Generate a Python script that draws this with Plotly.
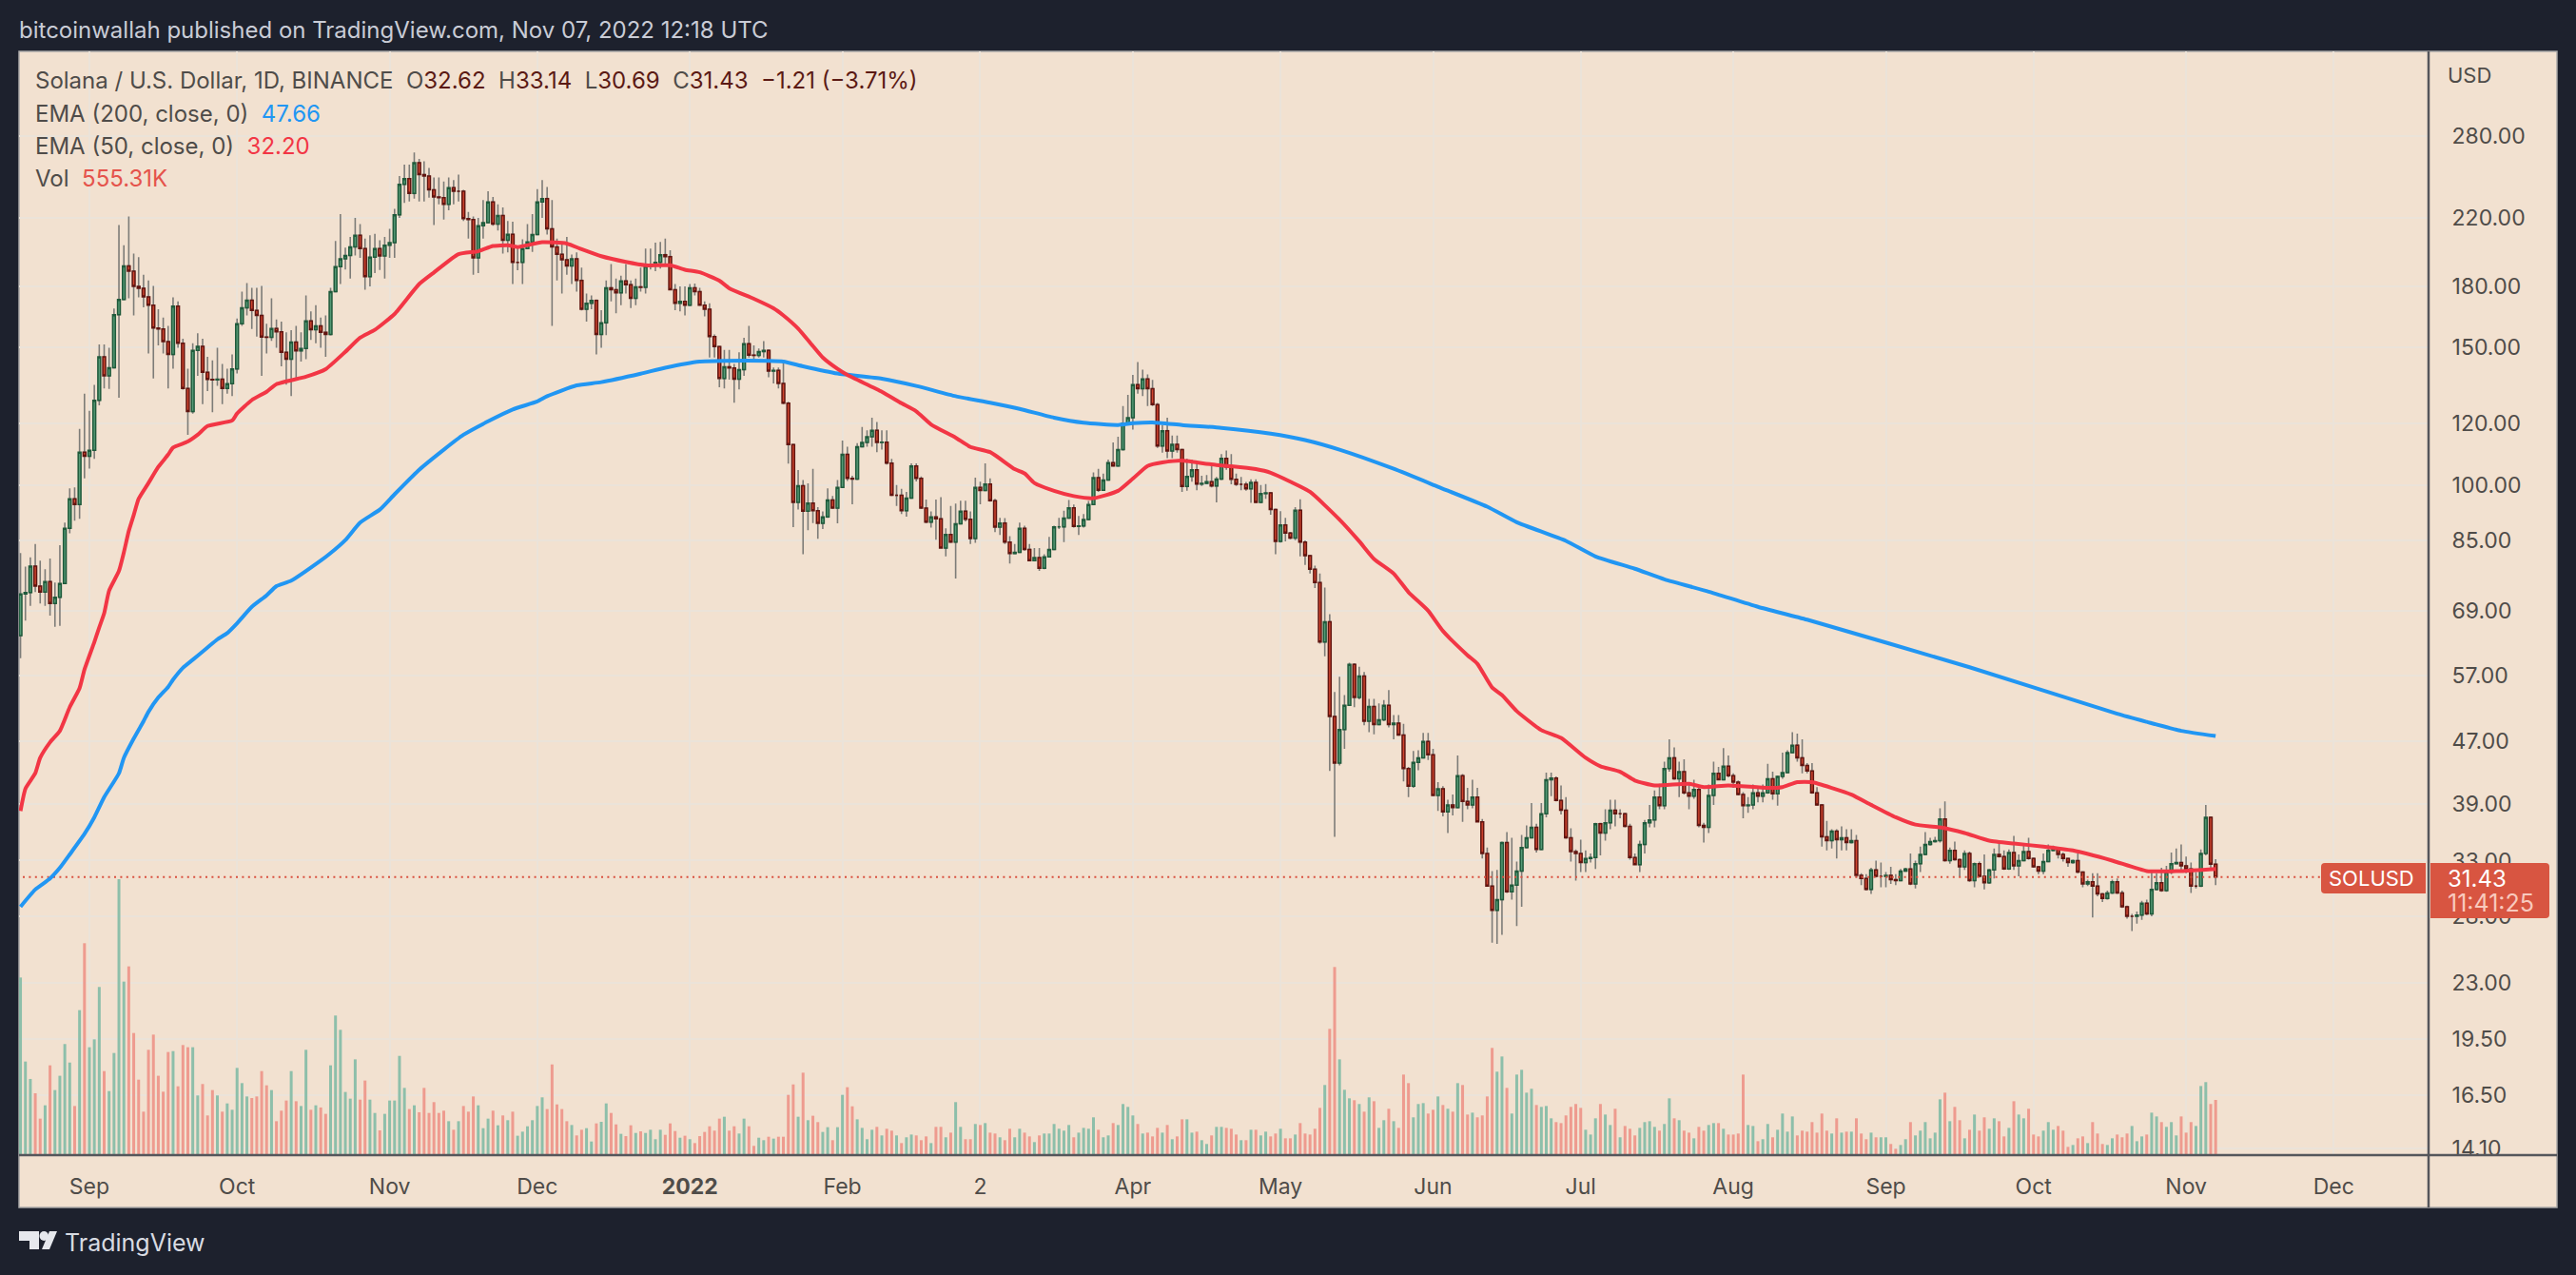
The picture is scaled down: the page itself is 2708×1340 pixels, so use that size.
import datetime as dt
import plotly.graph_objects as go

first_day = dt.date(2021, 8, 18)
first_open = 64.1

closes = [
72.5,72.8,78.7,74.2,72.9,75.2,70.5,71.8,74.8,88,
96,94.4,110.2,108.9,110.8,128.4,146,138,141.4,165.4,
173,191,188,179.7,178.8,174.3,170,159,158.5,152.7,
147,169.6,152,133,124.2,148.8,150.6,139.5,136.6,136.4,
136.7,133,134.9,140.9,161,168.7,172.6,167.4,165,154.8,
154.7,158.8,157.2,148,145,152.5,148.6,149.7,162.4,158.2,
160,157,156,177,190.6,195,197,202,209,201,
185,196,201,196.7,203,204.5,222,243,247,236.5,
259,250,249,239,234,233.5,229,240.6,238,238,
219.6,219,195.6,215,217,230.6,216,221.6,206,209.6,
193,193,201,205,209.5,230.6,233,213,202,197.6,
194.5,191,195,183,168,171,172.5,156,161.4,179,
178,176.4,182.7,180.7,173.6,179.5,179.3,190.8,191.5,193,
197.4,196.3,178,171,172,170,179,177,170,168,
155,150.5,137,141.8,141.3,136.7,140.6,151.8,146.7,146.6,
148.3,148.8,140,140.3,135,127.3,112.7,95,99.8,92.6,
94.8,92.7,89.3,91,95.7,93.4,99.3,109.5,102,101.8,
112,113.4,115.3,117.5,113.4,113.5,106.7,97,97,92.7,
96.2,105.8,102,93.4,89.6,91,90.5,83,86.4,84.5,
89.2,92.6,90.4,85.4,99.3,98.4,100.3,95.5,88.3,89.4,
84.5,81.7,82,88,82.7,80,80.7,78.2,80.9,82.7,
88.4,88.4,90.7,93.5,88.5,88.6,90.3,94.4,102.2,98.5,
101.5,106.8,105.8,111,120,122,134.5,132.9,136.8,132.9,
126.8,112.2,117.4,110.6,112.8,111,99.6,102.6,104.6,100.3,
100.5,101,99.7,101.8,108.2,105.5,101.7,100.2,100.2,98.9,
100.8,95,97.5,97.7,93,84.7,88.9,86.8,85.5,92.8,
84.5,81.2,78,75,62.9,66.8,50.5,44,48.6,52.2,
58.9,53.4,56.9,49.8,52,49.3,50,52.2,49.3,49.5,
47.8,43.3,41.1,44.1,44.7,46.9,45.1,40,40.8,38.1,
38.9,38.6,42.4,39.3,38.9,39.8,37,33.7,30.6,28.5,
29.4,34.8,30.1,30.7,32,34.3,35.3,36.4,34.1,37.9,
41.9,42.1,39.4,38.3,35.3,33.9,33.7,32.8,33.2,33.3,
36.8,35.8,36.9,38.3,37.9,37.9,36.5,33.3,32.6,34.6,
36.9,37.2,39.8,38.8,43.3,44.7,42,42.9,40.3,39.9,
40.7,36.6,36.4,40,42.7,41.9,43.6,42.4,41.6,40.1,
38.8,38.9,40.3,39.9,40.3,42,40.2,42.3,42.8,45.4,
46.4,44.7,43.7,43,40.3,38.9,35.4,35,36,35.1,
35.3,34.8,35,31.6,31.3,30.3,32.1,31.5,31.5,31.6,
31.2,31.1,32,32.2,30.8,32.7,33.6,34.6,34.9,35,
37.3,33,34,33.1,32.4,33.7,31.1,32.7,31.5,30.9,
32.1,33.6,33.4,32.2,33.8,32.5,33,33.9,33.2,32.4,
32,32.9,34,34.2,33.6,33.2,32.8,33,31.9,30.8,
31,30.6,29.9,29.5,30,31,30,28.8,28,28,
28.1,29.1,28.2,30.3,30.9,30.2,31.9,32.7,32.8,32.5,
32.2,30.6,30.6,33.7,37.5,32.64,31.43,
]

highs = [
81.8,78.6,80.8,84,80,78,80.5,75,83.7,89.5,
99,99.3,118,131,124.5,134.4,151.5,151.5,150,168.4,
215.5,203,221,198,196,186,183,180,168,164,
160,174,172,154,141,152,156.5,154,146,144.5,
150,143,141,147,163.5,177,181.5,179,179,180,
161,173.5,163,162,157,158,160,157,175,167,
170,164,165,179,205.5,222.5,201.5,208,220,216,
207,209,210,206,208,213,226,249,257.5,257.5,
267,262,260,255,248,248,245,248,246,250,
239,224,221,220,232,238,234,229,227,218,
217.6,202,206.5,216,222.5,239.6,246,241,232,207,
204,208,197.5,198.8,190,176,175,173,167.6,183,
192,184,185.5,192,183,184,190,201,201,204.5,
205,207,200,181,179.8,179.8,181,181.3,179,172,
171,156,150.5,149,149,143,148,154.5,160,151,
149.7,152.9,149.2,141.5,141.5,143.6,127.9,112,104.5,101.5,
100.5,104.9,93.7,92.5,99,96.8,101.5,114,112,102.8,
113.2,118.7,117.5,122,120.5,117.5,117.5,108,100,98.9,
98,106.6,106.6,102.6,95.8,92.5,95.8,96.5,88,94,
94.7,95.5,95.5,92.5,102.2,101,106.6,102,96,90.8,
90.7,86,84,89.5,88.7,84,83,83,81.5,85.8,
88.7,90.8,92.7,95.7,94.4,91.3,91.8,95.4,103.8,104.9,
103.4,107.8,113.4,115.3,126.3,130.5,138.4,143.8,140.6,138.6,
136.4,127.4,119.4,122,115.7,115.7,111.2,108.1,107.8,107.5,
102.8,103,105.7,102.4,109.6,110.7,109.6,103.4,102.4,100.9,
101.7,101.7,100,100.3,98,93.3,92.6,90.8,87.1,93.7,
95.9,84.9,81,78.8,77,73.9,68.3,54.3,56.8,53.8,
59.2,59.1,58.5,57.6,53.2,53.2,52.5,53,54.6,50.7,
50.7,49.4,43.5,45.6,45.7,48.1,48.1,45.9,41.6,41.1,
39.5,40.1,45,42.6,40.9,41.9,40.9,37.3,34.3,32,
32.1,34.9,35.9,35.3,32.9,35.6,36.6,39.1,36.8,39.1,
42.8,42.8,42.3,41.2,39.8,36.3,34.1,35.1,34,33.7,
36.9,36.9,38.4,39.5,39.5,38.4,38,36.8,33.7,35,
37.2,38.9,40.6,41.4,44.2,47.2,46.1,44.2,44.5,41.3,
41.9,41,36.9,41.3,44.2,43.5,46,45,42.7,41.8,
40.4,39.8,41.3,40.9,41.3,43.9,42.9,42.4,45.4,45.7,
48.2,48,47.2,44,44,41,38.9,37.1,36.2,36.2,
36.5,36.2,36.2,35.6,31.8,31.7,32.3,33,32.8,31.9,
32.4,31.7,32.2,32.3,33.7,33,34.4,35.9,35.3,35.4,
38.5,39.3,34.3,34.9,33.2,34,33.9,32.8,32.9,33.6,
32.2,34.2,34.8,34,34.1,35.5,33.6,34.5,35.3,33.3,
32.5,33.7,34.6,34.5,34.3,33.8,33.2,33.1,33.7,31.9,
31.2,31.8,31.8,30,30.2,31.2,31.3,30.2,28.9,28.2,
28.4,29.3,29.4,32,31.8,32.3,32.5,33.8,34.2,34.6,
33.4,32.8,31.9,34.1,38.9,37.6,33.14,
]

lows = [
60,67,70,72.9,70.5,70,68,65.8,66,75,
86.7,90,90.5,102,105,108,126.5,133,132.8,147,
129.4,173.5,173.5,165,174,169,147.5,137,151,147.5,
133,141,150,132.5,116,123.5,138,127,132,124,
134,127,131,130,139,160,165,158.5,155,138,
147.5,153,150,142,134.5,130,137,144,145,153.5,
152,150,146,155.5,178.5,181,189,184,197,195.6,
178,179.7,187,188.7,184,195.6,195.6,220,230,231,
233,231,231,233.5,215.5,229,219,225,229,231,
218,207,186,187,207,218,215,212,198,198.7,
181,188.5,181,201,199,209.5,220,209.5,160,183,
176,186,181,177,167.5,162,168,147,150,155.6,
172,166,170,176,168.6,170,177,176,189,188,
189.5,191.5,177.7,167.6,167,165,170,175,169.8,164.5,
145.7,145.7,133.5,133,136.5,127.5,132.6,138,145.7,144,
145.7,145.7,137.5,135,133,127,106.5,88.3,93,81.5,
87.5,89.4,85.3,87.8,91.1,93.2,89.3,99.2,101.2,94.5,
101.5,112,112,112,110.2,111,106.2,96.8,94,91.8,
91.1,96,101.1,93.2,89.3,88.2,85.1,83,81,84.3,
75.9,89.3,89.8,84,84.3,94.5,98.2,95.2,87,86.3,
84,79.3,81.6,81.9,82.4,79.8,80.2,77.6,78,80.7,
82.7,87.8,84.5,90.8,88.2,86.3,88.2,90.3,94.3,98,
98.5,101.5,105.6,105.6,111,119.6,117.8,131,130,126.3,
126.3,111.6,110,108.3,108.3,110,98,98.3,101,98.5,
99.7,100.2,99.3,95,101.5,104.6,100.2,99.7,98.5,98.3,
94.9,94.8,94.8,96,91.6,81.5,84.4,84.7,85.2,85,
81,79,77,73.8,62.6,60.3,43,35.4,43.7,45.9,
52.2,51.9,53.1,49.2,48.2,47.9,49.3,49.8,48.9,47.2,
47.7,41.7,39.8,40.9,43.1,44.6,44.4,39.9,38.2,37.6,
35.8,37.7,38.5,37,38.4,38.5,37,33.2,30.6,25.9,
25.8,26.5,30,29.4,27.2,28.8,34.2,35.3,33.8,34.1,
37.5,39.9,39.3,37.8,35.2,32.9,31.1,31.9,31.9,32.8,
32.2,33.5,35,36.2,36.5,37.4,36.4,33.1,32.6,31.9,
33.7,36.4,36.4,38.4,38.4,42.9,41.9,39.8,40.1,38.4,
39.6,36.4,34.8,35.8,38.9,41.9,41.8,42.2,40.9,40,
37.4,38,38.4,39.2,39.2,40.2,39.5,38.8,42,42.7,
45.3,44.2,42.7,42.7,40.2,38.8,34.4,34,34.2,33.2,
34,34,34.7,31.4,30.7,30.2,29.9,31.4,30.5,30.5,
30.8,30.7,31.1,32,30.7,30.4,31.9,33.5,34.5,34.8,
34.8,32.9,32.7,33,31.5,32.1,31,30.5,31.4,30.3,
30.8,31.3,33.3,32.1,32.1,32.1,31.5,33,33.1,32.3,
31.7,31.7,32.9,34,33.2,32.9,32.4,32.7,31.8,30.5,
30.6,27.9,29.7,29.2,29.4,29.9,29.9,28.7,27.8,26.8,
27.4,27.7,28.1,28,30.2,30.1,30.1,31.7,32.7,32.1,
31.8,30,30.4,30.6,33.5,32.2,30.69,
]

volumes_k = [
1786,941,766,622,367,501,903,654,798,1117,
931,494,1458,2131,1085,1164,1691,845,644,1027,
2775,1745,1898,1228,759,437,1059,1212,798,638,
1037,1046,692,1107,1085,1085,600,715,399,654,
600,437,520,456,877,724,590,574,590,845,
702,654,341,447,549,845,542,494,1059,456,
501,479,415,903,1404,1260,635,568,963,558,
750,558,424,249,415,549,549,998,676,463,
501,431,676,424,533,424,447,341,255,341,
494,437,590,501,271,367,447,300,399,351,
437,195,236,290,351,494,581,463,912,510,
463,341,303,198,255,271,137,319,335,520,
424,309,214,191,300,223,239,223,255,160,
255,204,319,242,175,195,160,121,191,233,
290,246,367,386,246,290,217,367,290,93,
175,150,185,166,185,185,606,711,386,829,
351,396,332,233,281,150,281,606,683,491,
360,274,160,255,284,198,265,246,198,121,
179,207,198,150,188,121,284,284,179,226,
533,284,160,160,313,303,322,226,217,179,
150,265,179,265,226,188,131,198,217,217,
313,265,246,303,179,226,274,265,380,255,
179,198,322,303,514,485,399,313,217,226,
188,274,226,303,160,188,360,360,226,236,
150,112,198,284,284,274,265,207,150,150,
255,255,198,236,188,217,265,169,169,207,
322,217,207,265,475,705,1270,1892,963,657,
571,552,514,437,581,542,274,351,466,341,
274,810,724,380,514,523,418,456,590,504,
466,437,724,705,408,427,380,399,590,1078,
839,992,676,418,810,858,628,667,504,485,
494,370,332,322,399,485,514,475,255,207,
370,514,408,303,466,179,293,265,198,274,
332,341,284,246,313,571,370,351,246,226,
169,284,246,303,322,322,265,207,207,217,
810,303,293,140,160,313,179,255,418,236,
389,198,246,236,332,226,418,246,217,370,
226,236,236,370,217,160,226,179,179,179,
112,64,102,160,332,198,246,332,169,226,
561,628,341,485,351,169,255,408,246,380,
265,370,341,188,274,542,408,370,466,207,
188,246,332,255,293,246,83,102,169,188,
121,332,217,112,102,169,207,179,217,293,
140,188,207,427,389,332,284,332,198,389,
226,332,293,695,734,514,555.31,
]

ema50_day = [0,1,3,4,6,8,10,12,13,15,16,17,18,20,21,22,23,24,26,28,30,31,34,36,38,43,44,47,50,52,58,62,66,69,72,76,81,84,89,93,96,99,
101,106,111,114,118,123,127,132,135,138,142,144,149,153,155,158,161,163,166,168,175,179,182,185,190,193,197,
202,204,206,210,214,218,223,226,229,232,236,239,243,246,251,254,258,262,268,272,275,279,282,286,289,294,296,299,301,304,309,313,318,321,325,328,332,339,342,347,
355,358,361,364,368,372,376,381,385,390,395,400,405,411,417,425,432,439,446]
ema50_val = [38.2,40.8,42.7,44.7,46.8,48.4,51.9,54.9,58,62.9,65.7,68.5,73.2,77.6,82,87.3,91.5,96,100.6,105.5,109.4,111.7,113.7,116,119,121,123.5,128.5,131.7,134.7,137.7,140.8,148.2,154.5,158.1,165.7,181,187.3,197.7,199.4,202.5,203,
201.9,204.8,204,200.6,196.5,193.2,191.3,191.3,188.8,187.4,182.8,178.8,173.3,168.5,165,158.7,150.7,145.7,140.9,138.4,131.7,127.3,124.3,119.6,115,111.9,110.2,
104.8,103.5,100.6,98.3,96.8,96.2,98.3,101.9,105.8,106.9,107.5,106.9,106.1,105.7,104.8,103.7,101,98,90.3,84.7,80.4,77,72.9,69,65,60.5,59,55,53.8,51.3,48.5,47.4,44.7,43.6,42.9,41.8,41.2,41.4,41,41.2,
40.9,41,41.6,41.6,40.9,40.1,38.9,37.5,36.7,36.4,35.8,35,34.7,34.4,34,33,32,32,32.2]

ema200_day = [0,3,6,8,10,13,15,17,20,21,23,25,26,28,30,31,33,35,38,40,42,44,47,50,52,55,61,63,66,69,73,76,81,86,90,95,100,105,107,113,118,126,131,138,143,152,155,159,166,175,182,190,197,203,210,216,223,226,230,236,244,254,261,268,279,288,298,304,314,320,328,334,343,353,363,396,426,432,439,446]
ema200_val = [28.8,30.3,31.3,32.3,33.6,35.7,37.5,39.8,42.7,44.7,47.3,49.8,51.2,53.4,55.1,56.3,58.3,59.7,61.9,63.4,64.6,66.5,69.8,72.2,74.2,75.4,80,81.8,85,89.5,93,97.3,104.6,111,116,120.7,125,128,130,134.2,135.5,138.9,141.4,144,144.3,144.3,144,142,139,136.9,134,130,127.5,125.2,122,120.2,119.4,120,120.3,119.4,118.4,116.4,114.2,111,104.9,99.5,93.8,89.6,84.8,81,78.1,75.7,73,69.8,67.2,58.4,50.9,49.7,48.4,47.66]

last_price = [31.43, 31.43]
price_ticks = [280,220,180,150,120,100,85,69,57,47,39,33,28,23,19.5,16.5,14.1]
price_tick_text = ["280.00","220.00","180.00","150.00","120.00","100.00","85.00","69.00","57.00","47.00","39.00","33.00","28.00","23.00","19.50","16.50","14.10"]
month_ticks = ["2021-09-01","2021-10-01","2021-11-01","2021-12-01","2022-01-01","2022-02-01","2022-03-01","2022-04-01","2022-05-01","2022-06-01","2022-07-01","2022-08-01","2022-09-01","2022-10-01","2022-11-01","2022-12-01"]
month_text = ["Sep","Oct","Nov","Dec","<b>2022</b>","Feb","2","Apr","May","Jun","Jul","Aug","Sep","Oct","Nov","Dec"]

dates = [first_day + dt.timedelta(days=i) for i in range(len(closes))]
opens = [first_open] + closes[:-1]

W, H = 2708, 1340
PL, PR, PT, PB = 20, 2553, 54, 1214
def px(x): return (x - PL) / (PR - PL)
def py(y): return (PB - y) / (PB - PT)

FRAME = "#1d212d"
PEACH = "#f2e1d0"
GRID = "#ebe3d9"
AXIS = "#55565b"
FONT = "Inter, Roboto, sans-serif"
TXT = "#4f4c49"
VAL = "#5b1a14"

fig = go.Figure()

vol_colors = ["#8dbfaa" if c >= o else "#ee9b8f" for o, c in zip(opens, closes)]
fig.add_trace(go.Bar(x=dates, y=volumes_k, yaxis="y2", marker=dict(color=vol_colors, line_width=0),
                     width=3.0 / 5.174 * 86400000, hoverinfo="skip", showlegend=False))

fig.add_trace(go.Scatter(x=[dates[0] - dt.timedelta(days=2), dt.date(2022, 11, 29)], y=last_price, mode="lines",
                         line=dict(color="#d9503f", width=2, dash="2px,4.4px"), hoverinfo="skip", showlegend=False))

fig.add_trace(go.Candlestick(x=dates, open=opens, close=opens, high=highs, low=lows, whiskerwidth=0,
                             increasing=dict(line=dict(color="#7d7c78", width=1.6), fillcolor="rgba(0,0,0,0)"),
                             decreasing=dict(line=dict(color="#7d7c78", width=1.6), fillcolor="rgba(0,0,0,0)"),
                             hoverinfo="skip", showlegend=False))
fig.add_trace(go.Candlestick(x=dates, open=opens, close=closes,
                             high=[max(o, c) for o, c in zip(opens, closes)],
                             low=[min(o, c) for o, c in zip(opens, closes)], whiskerwidth=0,
                             increasing=dict(line=dict(color="#1f5a3b", width=1.5), fillcolor="#559a76"),
                             decreasing=dict(line=dict(color="#611510", width=1.5), fillcolor="#d1452f"),
                             hoverinfo="skip", showlegend=False))

fig.add_trace(go.Scatter(x=[dates[i] for i in ema200_day], y=ema200_val, mode="lines",
                         line=dict(color="#2196f3", width=4, shape="spline", smoothing=0.5),
                         hoverinfo="skip", showlegend=False))
fig.add_trace(go.Scatter(x=[dates[i] for i in ema50_day], y=ema50_val, mode="lines",
                         line=dict(color="#f23645", width=4, shape="spline", smoothing=0.5),
                         hoverinfo="skip", showlegend=False))

def rrect(x0, y0, x1, y1, r_left, r_right, color):
    X = lambda v: px(v)
    Y = lambda v: py(v)
    d = (f"M {X(x0+r_left)} {Y(y0)} L {X(x1-r_right)} {Y(y0)} Q {X(x1)} {Y(y0)} {X(x1)} {Y(y0+r_right)} "
         f"L {X(x1)} {Y(y1-r_right)} Q {X(x1)} {Y(y1)} {X(x1-r_right)} {Y(y1)} "
         f"L {X(x0+r_left)} {Y(y1)} Q {X(x0)} {Y(y1)} {X(x0)} {Y(y1-r_left)} "
         f"L {X(x0)} {Y(y0+r_left)} Q {X(x0)} {Y(y0)} {X(x0+r_left)} {Y(y0)} Z")
    return dict(type="path", xref="paper", yref="paper", path=d, fillcolor=color, line_width=0, layer="above")

def rect(x0, y0, x1, y1, color, layer="above", line=None):
    return dict(type="rect", xref="paper", yref="paper", x0=px(x0), x1=px(x1), y0=py(y1), y1=py(y0),
                fillcolor=color, line=line or dict(width=0), layer=layer)

def seg(x0, y0, x1, y1, color, w):
    return dict(type="line", xref="paper", yref="paper", x0=px(x0), x1=px(x1), y0=py(y0), y1=py(y1),
                line=dict(color=color, width=w), layer="above")

def poly(points, color):
    d = "M " + " L ".join(f"{px(a)} {py(b)}" for a, b in points) + " Z"
    return dict(type="path", xref="paper", yref="paper", path=d, fillcolor=color, line_width=0, layer="above")

LABEL_RED = "#d85541"
shapes = [
    rect(PL, PT, 2688, 1269, PEACH, layer="below", line=dict(color="#a9a8a8", width=1.5)),
    rect(2556, 1216, 2686, 1267, PEACH),
    rrect(2440, 907, 2550, 939, 4, 0, LABEL_RED),
    rrect(2555, 907, 2680, 965, 0, 4, LABEL_RED),
    seg(PL, 1214, 2688, 1214, AXIS, 2.5),
    seg(2553, PT, 2553, 1269, AXIS, 2.5),
    poly([(20, 1294), (41, 1294), (41, 1313), (31, 1313), (31, 1304), (20, 1304)], "#e6e8ed"),
    dict(type="circle", xref="paper", yref="paper", x0=px(41.5), x1=px(51), y0=py(1304), y1=py(1294),
         fillcolor="#e6e8ed", line_width=0, layer="above"),
    poly([(52, 1294), (60, 1294), (52, 1313), (44, 1313)], "#e6e8ed"),
]

def note(x, y, text, size=21, color=TXT, anchor="left"):
    return dict(xref="paper", yref="paper", x=px(x), y=py(y), text=text, showarrow=False,
                xanchor=anchor, yanchor="middle", align=anchor,
                font=dict(family=FONT, size=size, color=color), borderpad=0, borderwidth=0)

def v(t): return f'<span style="color:{VAL}">{t}</span>'
legend1 = ("Solana / U.S. Dollar, 1D, BINANCE  O" + v("32.62") + "  H" + v("33.14") + "  L" + v("30.69") +
           "  C" + v("31.43") + "  " + v("\u22121.21 (\u22123.71%)"))
annotations = [
    note(20, 32, "bitcoinwallah published on TradingView.com, Nov 07, 2022 12:18 UTC", size=24, color="#c9ccd6"),
    note(37, 85, legend1, size=24),
    note(37, 120, 'EMA (200, close, 0)  <span style="color:#2196f3">47.66</span>', size=24),
    note(37, 154, 'EMA (50, close, 0)  <span style="color:#f23645">32.20</span>', size=24),
    note(37, 188, 'Vol  <span style="color:#e5534b">555.31K</span>', size=24),
    note(2573, 79, "USD", size=22),
    note(2493, 923, "SOLUSD", size=22, color="#ffffff", anchor="center"),
    note(2573, 923, "31.43", size=24, color="#ffffff"),
    note(2573, 949, "11:41:25", size=25, color="#f8c9bd"),
    note(68, 1306, "TradingView", size=25, color="#d8dbe2"),
]

fig.update_layout(
    width=W, height=H, autosize=False,
    margin=dict(l=PL, r=W - PR, t=PT, b=H - PB, pad=0),
    paper_bgcolor=FRAME, plot_bgcolor=PEACH,
    boxmode="overlay", boxgap=0.2, hovermode=False, showlegend=False,
    xaxis=dict(type="date", range=["2021-08-17 16:48", "2022-12-20 06:14"], rangeslider=dict(visible=False),
               tickmode="array", tickvals=month_ticks, ticktext=month_text, showgrid=True, gridcolor=GRID, gridwidth=2,
               zeroline=False, showline=False, ticks="outside", ticklen=12, tickcolor="rgba(0,0,0,0)",
               tickfont=dict(family=FONT, size=23, color=TXT)),
    yaxis=dict(type="log", range=[1.1409, 2.5560], side="right", tickmode="array", tickvals=price_ticks,
               ticktext=price_tick_text, showgrid=True, gridcolor=GRID, gridwidth=2, zeroline=False, showline=False,
               ticks="outside", ticklen=19, tickcolor="rgba(0,0,0,0)", tickfont=dict(family=FONT, size=23, color=TXT)),
    yaxis2=dict(overlaying="y", range=[0, 11100], visible=False),
    shapes=shapes, annotations=annotations,
)
fig.write_html("out.html", config=dict(displayModeBar=False),
               post_script="document.body.style.margin='0';document.body.style.background='#1d212d';")
